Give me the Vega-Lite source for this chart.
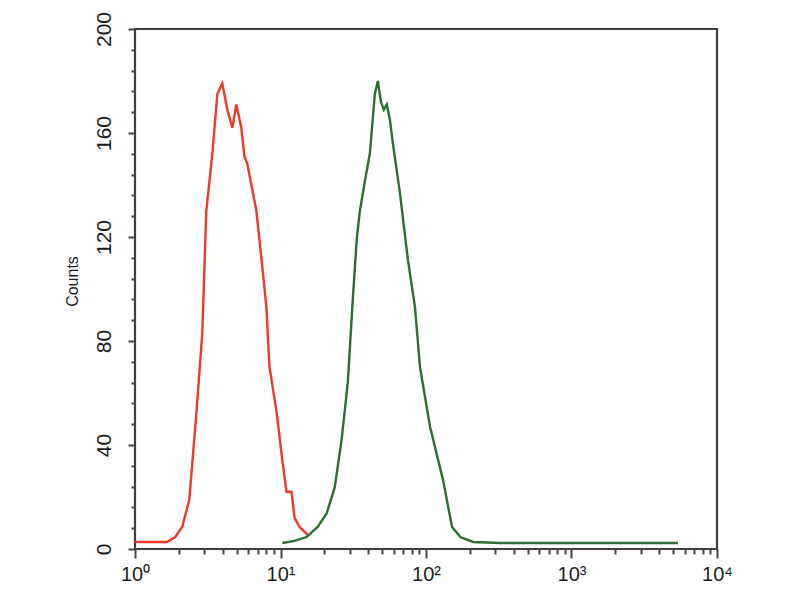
{
  "$schema": "https://vega.github.io/schema/vega-lite/v6.json",
  "autosize": "none",
  "width": 582,
  "height": 520,
  "padding": {"left": 135, "top": 29, "right": 83, "bottom": 51},
  "background": "white",
  "config": {
    "view": {"stroke": "#3f3f3f", "strokeWidth": 2.2},
    "axis": {"grid": false, "domain": false, "labelFont": "Liberation Sans", "titleFont": "Liberation Sans", "labelColor": "#1e1e1e", "titleColor": "#1e1e1e", "tickColor": "#444"}
  },
  "data": {
    "values": [
      {"series": "control", "x": 1.0, "count": 2.7},
      {"series": "control", "x": 1.66, "count": 2.7},
      {"series": "control", "x": 1.89, "count": 4.6},
      {"series": "control", "x": 2.11, "count": 8.5},
      {"series": "control", "x": 2.36, "count": 18.8},
      {"series": "control", "x": 2.63, "count": 50.8},
      {"series": "control", "x": 2.9, "count": 83},
      {"series": "control", "x": 3.09, "count": 130},
      {"series": "control", "x": 3.4, "count": 152},
      {"series": "control", "x": 3.68, "count": 175},
      {"series": "control", "x": 3.98, "count": 179},
      {"series": "control", "x": 4.31, "count": 169},
      {"series": "control", "x": 4.67, "count": 162},
      {"series": "control", "x": 4.97, "count": 171},
      {"series": "control", "x": 5.38, "count": 162},
      {"series": "control", "x": 5.65, "count": 151},
      {"series": "control", "x": 5.92, "count": 148},
      {"series": "control", "x": 6.83, "count": 130},
      {"series": "control", "x": 7.51, "count": 108},
      {"series": "control", "x": 8.0, "count": 93},
      {"series": "control", "x": 8.4, "count": 70},
      {"series": "control", "x": 9.38, "count": 53},
      {"series": "control", "x": 10.3, "count": 34},
      {"series": "control", "x": 11.0, "count": 22},
      {"series": "control", "x": 11.9, "count": 22},
      {"series": "control", "x": 12.5, "count": 12},
      {"series": "control", "x": 13.5, "count": 8.5},
      {"series": "control", "x": 15.4, "count": 5.4},
      {"series": "sample", "x": 10.3, "count": 2.3},
      {"series": "sample", "x": 12.5, "count": 3.1},
      {"series": "sample", "x": 15.1, "count": 4.6},
      {"series": "sample", "x": 18.0, "count": 8.5},
      {"series": "sample", "x": 20.8, "count": 13.8},
      {"series": "sample", "x": 23.6, "count": 23.8},
      {"series": "sample", "x": 26.3, "count": 42},
      {"series": "sample", "x": 29.0, "count": 64},
      {"series": "sample", "x": 31.4, "count": 96},
      {"series": "sample", "x": 33.4, "count": 119},
      {"series": "sample", "x": 35.1, "count": 130},
      {"series": "sample", "x": 37.9, "count": 141},
      {"series": "sample", "x": 41.1, "count": 152},
      {"series": "sample", "x": 44.5, "count": 175},
      {"series": "sample", "x": 46.7, "count": 180},
      {"series": "sample", "x": 49.0, "count": 172},
      {"series": "sample", "x": 51.3, "count": 169},
      {"series": "sample", "x": 53.8, "count": 171},
      {"series": "sample", "x": 56.5, "count": 165},
      {"series": "sample", "x": 59.2, "count": 156},
      {"series": "sample", "x": 66.2, "count": 137},
      {"series": "sample", "x": 75.2, "count": 111},
      {"series": "sample", "x": 84.0, "count": 93},
      {"series": "sample", "x": 90.9, "count": 70},
      {"series": "sample", "x": 106.6, "count": 47},
      {"series": "sample", "x": 131, "count": 26.5},
      {"series": "sample", "x": 151, "count": 8.5},
      {"series": "sample", "x": 172, "count": 4.6},
      {"series": "sample", "x": 211, "count": 2.7},
      {"series": "sample", "x": 324, "count": 2.3},
      {"series": "sample", "x": 1585, "count": 2.3},
      {"series": "sample", "x": 5388, "count": 2.3}
    ]
  },
  "layer": [
    {
      "transform": [{"filter": "datum.series === 'control'"}],
      "mark": {"type": "line", "color": "#ee3a26", "strokeWidth": 2.4, "interpolate": "linear"},
      "encoding": {
        "x": {"field": "x", "type": "quantitative",
          "scale": {"type": "log", "domain": [1, 10000], "nice": false},
          "axis": {"orient": "bottom", "values": [1, 10, 100, 1000, 10000], "tickSize": 9, "tickWidth": 2, "labelFontSize": 20, "labelPadding": 6, "labelExpr": "['10⁰','10¹','10²','10³','10⁴'][round(log(datum.value)/LN10)]", "title": null, "labelFlush": false}},
        "y": {"field": "count", "type": "quantitative",
          "scale": {"domain": [0, 200], "nice": false},
          "axis": {"orient": "left", "values": [0, 40, 80, 120, 160, 200], "tickSize": 7, "tickWidth": 2, "labelFontSize": 21, "labelAngle": -90, "labelAlign": "center", "labelBaseline": "bottom", "labelPadding": 14, "title": "Counts", "titleFontSize": 16, "titleFontWeight": "normal", "titlePadding": 13, "titleY": 252, "labelFlush": false}}
      }
    },
    {
      "transform": [{"filter": "datum.series === 'sample'"}],
      "mark": {"type": "line", "color": "#2f6d33", "strokeWidth": 2.4, "interpolate": "linear"},
      "encoding": {
        "x": {"field": "x", "type": "quantitative",
          "scale": {"type": "log", "domain": [1, 10000], "nice": false},
          "axis": {"orient": "bottom", "values": [2, 3, 4, 5, 6, 7, 8, 9, 20, 30, 40, 50, 60, 70, 80, 90, 200, 300, 400, 500, 600, 700, 800, 900, 2000, 3000, 4000, 5000, 6000, 7000, 8000, 9000], "tickSize": 5, "tickWidth": 2, "labels": false, "title": null}},
        "y": {"field": "count", "type": "quantitative",
          "scale": {"domain": [0, 200], "nice": false},
          "axis": {"orient": "left", "values": [8, 16, 24, 32, 48, 56, 64, 72, 88, 96, 104, 112, 128, 136, 144, 152, 168, 176, 184, 192], "tickSize": 4, "tickWidth": 2, "labels": false, "title": null}}
      }
    }
  ],
  "resolve": {"axis": {"x": "independent", "y": "independent"}}
}
